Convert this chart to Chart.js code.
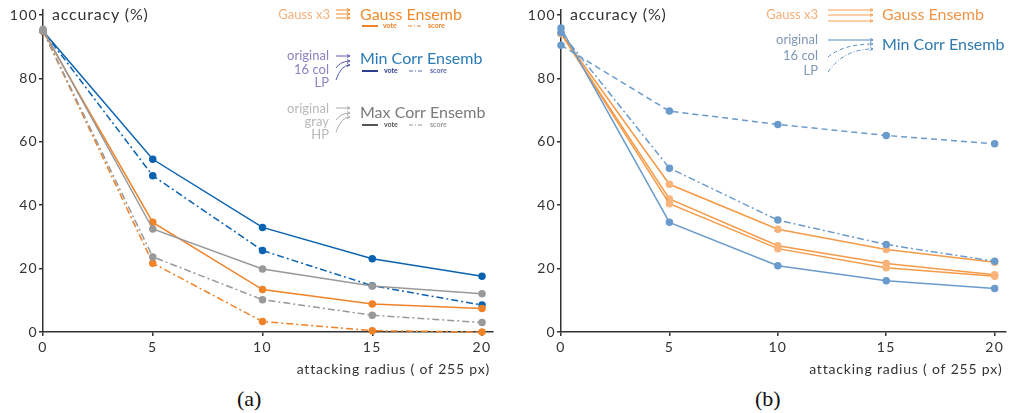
<html>
<head>
<meta charset="utf-8">
<title>attack radius vs accuracy</title>
<script src="https://cdn.jsdelivr.net/npm/chart.js@4.4.0/dist/chart.umd.min.js"></script>
<style>
  body { margin: 0; background: #fff; width: 1011px; height: 413px; position: relative; overflow: hidden; }
  .panel { position: absolute; top: 0; height: 380px; }
  #pa { left: 0; width: 505px; }
  #pb { left: 518px; width: 493px; }
  .cap { position: absolute; top: 386px; font-family: "Liberation Serif", serif; font-size: 22px; color: #111; }
</style>
</head>
<body>
<div class="panel" id="pa"><canvas id="chartA"></canvas></div>
<div class="panel" id="pb"><canvas id="chartB"></canvas></div>
<div class="cap" style="left:237px">(a)</div>
<div class="cap" style="left:755px">(b)</div>
<script>
// x values: attacking radius
var radius = [0, 5, 10, 15, 20];
var xTicks = [0, 5, 10, 15, 20];
var yTicks = [0, 20, 40, 60, 80, 100];

// panel (a)
var gaussVoteA  = [95.0, 34.6, 13.4, 8.8, 7.4];
var gaussScoreA = [95.0, 21.7, 3.3, 0.4, 0.0];
var minVoteA    = [95.0, 54.5, 33.0, 23.1, 17.6];
var minScoreA   = [95.0, 49.3, 25.7, 14.6, 8.5];
var maxVoteA    = [95.5, 32.5, 19.9, 14.5, 12.1];
var maxScoreA   = [95.0, 23.7, 10.2, 5.3, 3.0];

// panel (b)
var gauss1B = [94.2, 46.6, 32.4, 26.0, 22.0];
var gauss2B = [94.2, 42.0, 27.2, 21.6, 18.1];
var gauss3B = [94.2, 40.5, 26.3, 20.3, 17.6];
var origB   = [95.9, 34.6, 20.9, 16.2, 13.7];
var col16B  = [90.5, 69.7, 65.5, 62.0, 59.4];
var lpB     = [94.5, 51.7, 35.3, 27.6, 22.3];

var FONT = "Lato, 'Open Sans', sans-serif";
var DASHDOT = [7, 3, 2, 3];
var DASH = [6, 4];

function pts(vals) {
  return radius.map(function(r, i) { return { x: r, y: vals[i] }; });
}

function ds(vals, color, dash, ptColor) {
  return {
    data: pts(vals),
    borderColor: color,
    backgroundColor: ptColor || color,
    pointBackgroundColor: ptColor || color,
    pointBorderColor: ptColor || color,
    pointRadius: 3,
    borderWidth: 1.5,
    borderDash: dash || [],
    tension: 0,
    clip: false
  };
}

function text(ctx, s, x, y, size, color, align, spacing, weight) {
  ctx.save();
  ctx.font = (weight || "normal") + " " + size + "px " + FONT;
  ctx.fillStyle = color;
  ctx.textAlign = align || "left";
  ctx.textBaseline = "middle";
  ctx.letterSpacing = (spacing || 0) + "px";
  ctx.fillText(s, x, y);
  ctx.restore();
}

function seg(ctx, x1, y1, x2, y2, color, dash, w) {
  ctx.save();
  ctx.strokeStyle = color;
  ctx.lineWidth = w || 1;
  ctx.setLineDash(dash || []);
  ctx.beginPath();
  ctx.moveTo(x1, y1);
  ctx.lineTo(x2, y2);
  ctx.stroke();
  ctx.restore();
}

function arrow(ctx, x1, y1, x2, y2, color, dash, curved) {
  ctx.save();
  ctx.strokeStyle = color;
  ctx.lineWidth = 1;
  ctx.setLineDash(dash || []);
  ctx.beginPath();
  ctx.moveTo(x1, y1);
  if (curved) ctx.quadraticCurveTo(x1 + (x2 - x1) * 0.35, y2, x2, y2);
  else ctx.lineTo(x2, y2);
  ctx.stroke();
  ctx.setLineDash([]);
  ctx.beginPath();
  ctx.moveTo(x2 - 3, y2 - 1.5);
  ctx.lineTo(x2, y2);
  ctx.lineTo(x2 - 3, y2 + 1.5);
  ctx.stroke();
  ctx.restore();
}

function axisText(ctx, chart) {
  var a = chart.chartArea;
  text(ctx, "accuracy (%)", a.left + 9, 15, 16, "#333", "left", 0.8);
  text(ctx, "attacking radius ( of 255 px)", a.right - 3, 369, 14, "#333", "right", 0.8);
}

// wider letters for the tick labels
var spacing = {
  id: "spacing",
  beforeDraw: function(chart) { chart.ctx.letterSpacing = "1.3px"; }
};

var legendA = {
  id: "legendA",
  afterDraw: function(chart) {
    var ctx = chart.ctx;
    ctx.letterSpacing = "0px";
    axisText(ctx, chart);
    // Gauss
    text(ctx, "Gauss x3", 330, 15, 13, "#f7b07a", "right");
    [10, 14, 18].forEach(function(y) { arrow(ctx, 336, y, 350, y, "#f08a2c"); });
    text(ctx, "Gauss Ensemb", 360, 15, 16, "#f08a2c");
    seg(ctx, 362, 26, 378, 26, "#f08228", [], 2);
    text(ctx, "vote", 383, 26, 7, "#f08228", "left", 0, "bold");
    seg(ctx, 408, 26, 421, 26, "#f08228", [4, 2, 1, 2], 1.2);
    text(ctx, "score", 428, 26, 7, "#f08228", "left", 0, "bold");
    // Min Corr
    text(ctx, "original", 329, 56, 13, "#8a82c4", "right");
    text(ctx, "16 col", 329, 70, 13, "#8a82c4", "right");
    text(ctx, "LP", 329, 83, 13, "#8a82c4", "right");
    arrow(ctx, 336, 56, 350, 56, "#5a5ab0");
    arrow(ctx, 336, 68, 350, 61, "#5a5ab0", [], true);
    arrow(ctx, 336, 80, 350, 65, "#5a5ab0", [], true);
    text(ctx, "Min Corr Ensemb", 360, 59, 16, "#2b7bb5");
    seg(ctx, 362, 71, 378, 71, "#2c3e94", [], 2);
    text(ctx, "vote", 384, 71, 7, "#2c3e94", "left", 0, "bold");
    seg(ctx, 409, 71, 422, 71, "#5a6ab0", [4, 2, 1, 2], 1.2);
    text(ctx, "score", 430, 71, 7, "#5a6ab0", "left", 0, "bold");
    // Max Corr
    text(ctx, "original", 329, 109, 13, "#b8b8b8", "right");
    text(ctx, "gray", 329, 122, 13, "#b8b8b8", "right");
    text(ctx, "HP", 329, 135, 13, "#b8b8b8", "right");
    arrow(ctx, 336, 108, 350, 108, "#aaa");
    arrow(ctx, 336, 120, 350, 113, "#aaa", [], true);
    arrow(ctx, 336, 132, 350, 117, "#aaa", [], true);
    text(ctx, "Max Corr Ensemb", 360, 113, 16, "#7a7a7a");
    seg(ctx, 362, 125, 378, 125, "#555", [], 2);
    text(ctx, "vote", 384, 125, 7, "#555", "left", 0, "bold");
    seg(ctx, 409, 125, 422, 125, "#999", [4, 2, 1, 2], 1.2);
    text(ctx, "score", 430, 125, 7, "#999", "left", 0, "bold");
  }
};

var legendB = {
  id: "legendB",
  afterDraw: function(chart) {
    var ctx = chart.ctx;
    ctx.letterSpacing = "0px";
    axisText(ctx, chart);
    text(ctx, "Gauss x3", 300, 15, 13, "#f7ae78", "right");
    [10, 15, 21].forEach(function(y) { arrow(ctx, 310, y, 355, y, "#f5a050"); });
    text(ctx, "Gauss Ensemb", 364, 15, 16, "#f0954a");
    text(ctx, "original", 300, 40, 13, "#8098b8", "right");
    text(ctx, "16 col", 300, 56, 13, "#8098b8", "right");
    text(ctx, "LP", 300, 71, 13, "#8098b8", "right");
    arrow(ctx, 310, 40, 355, 40, "#5a8cc0");
    arrow(ctx, 310, 57, 355, 44, "#5a8cc0", [4, 3], true);
    arrow(ctx, 310, 72, 355, 49, "#5a8cc0", [4, 2, 1, 2], true);
    text(ctx, "Min Corr Ensemb", 364, 45, 16, "#2f7ab0");
  }
};

function scales() {
  return {
    x: {
      type: "linear", min: 0, max: 20.5,
      afterBuildTicks: function(s) { s.ticks = xTicks.map(function(v) { return { value: v }; }); },
      afterFit: function(s) { s.height = 48; },
      grid: { drawOnChartArea: false, drawTicks: true, tickLength: 4, color: "#333", lineWidth: 1.5 },
      border: { color: "#333", width: 1.5 },
      ticks: { color: "#333", padding: 3, font: { family: FONT, size: 14 }, maxRotation: 0 }
    },
    y: {
      type: "linear", min: 0, max: 101.6,
      afterBuildTicks: function(s) { s.ticks = yTicks.map(function(v) { return { value: v }; }); },
      afterFit: function(s) { s.width = 43; },
      grid: { drawOnChartArea: false, drawTicks: true, tickLength: 4, color: "#333", lineWidth: 1.5 },
      border: { color: "#333", width: 1.5 },
      ticks: { color: "#333", padding: 1, font: { family: FONT, size: 14 } }
    }
  };
}

function baseOptions(padRight) {
  return {
    responsive: true,
    maintainAspectRatio: false,
    animation: false,
    layout: { padding: { top: 10, right: padRight, left: 0, bottom: 0 } },
    plugins: { legend: { display: false }, tooltip: { enabled: false } },
    scales: scales()
  };
}

var blueA = "#0a62b0", orangeA = "#f08228", grayA = "#999999";
new Chart(document.getElementById("chartA"), {
  type: "line",
  data: {
    datasets: [
      ds(maxScoreA, grayA, DASHDOT),
      ds(maxVoteA, grayA),
      ds(gaussScoreA, orangeA, DASHDOT),
      ds(gaussVoteA, orangeA),
      ds(minScoreA, blueA, DASHDOT),
      ds(minVoteA, blueA)
    ]
  },
  options: baseOptions(12),
  plugins: [spacing, legendA]
});

var blueB = "#6a9bcc", orangeB = "#f59a48", orangePt = "#f8b47a";
new Chart(document.getElementById("chartB"), {
  type: "line",
  data: {
    datasets: [
      ds(origB, blueB),
      ds(col16B, blueB, DASH),
      ds(lpB, blueB, DASHDOT),
      ds(gauss3B, orangeB, [], orangePt),
      ds(gauss2B, orangeB, [], orangePt),
      ds(gauss1B, orangeB, [], orangePt)
    ]
  },
  options: baseOptions(1),
  plugins: [spacing, legendB]
});
</script>
</body>
</html>
